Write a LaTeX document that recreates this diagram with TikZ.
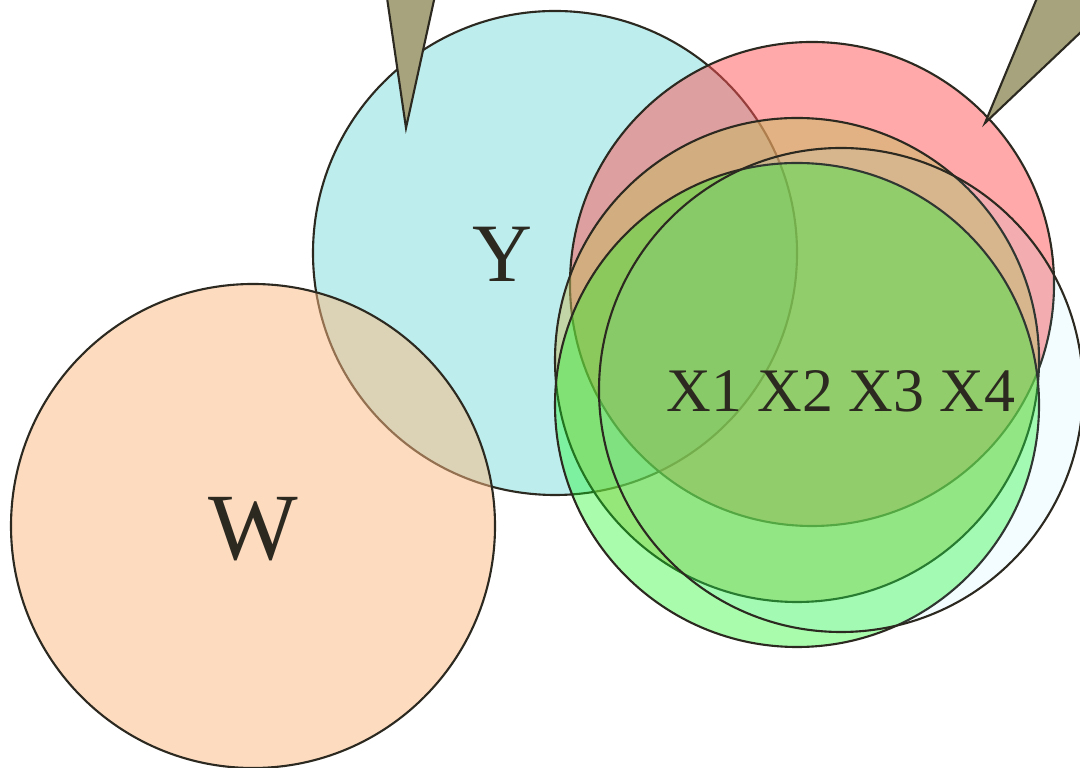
\documentclass[tikz,border=0pt]{standalone}
\usepackage{fontspec}
\setmainfont{Liberation Serif}
\usepackage{tikz}
\usetikzlibrary{positioning}

\definecolor{ink}{RGB}{44,41,33}
\definecolor{ycirc}{RGB}{123,219,219}
\definecolor{wcirc}{RGB}{251,183,127}
\definecolor{rcirc}{RGB}{255,83,85}
\definecolor{ocirc}{RGB}{199,189,96}
\definecolor{gcirc}{RGB}{20,247,31}
\definecolor{ccirc}{RGB}{105,230,255}
\definecolor{pointer}{RGB}{167,164,125}

\begin{document}
\begin{tikzpicture}[x=0.01cm, y=-0.01cm,
    venn/.style={draw=ink, line width=0.6pt},
    pin/.style={draw=ink, fill=pointer, line width=0.6pt, line join=miter},
    lbl/.style={text=ink, inner sep=0pt, anchor=base}]
    \useasboundingbox (0,0) rectangle (1080,768);
    \clip (0,0) rectangle (1080,768);

    % sets, back to front
    \foreach \cx/\cy/\col/\op in {555/253/ycirc/0.5, 253/526/wcirc/0.5,
        812/284/rcirc/0.5, 797/360/ocirc/0.5, 797/405/gcirc/0.37, 841/390/ccirc/0.08}
        \draw[venn, fill=\col, fill opacity=\op] (\cx,\cy) circle [radius=242];

    % pointers coming in from the top
    \draw[pin] (406,128) -- (380,-50) -- (445,-50) -- cycle;
    \draw[pin] (985,123) -- (1057,-50) -- (1140,-50) -- (1140,-24) -- cycle;

    \node[lbl, font=\fontsize{27}{30}\selectfont] (wlabel) at (253,560) {W};
    \node[lbl, font=\fontsize{23.6}{26}\selectfont] (ylabel) at (502,282) {Y};
    \node[lbl, font=\fontsize{17.6}{20}\selectfont] (xlabel) at (841,412) {X1 X2 X3 X4};
\end{tikzpicture}
\end{document}
